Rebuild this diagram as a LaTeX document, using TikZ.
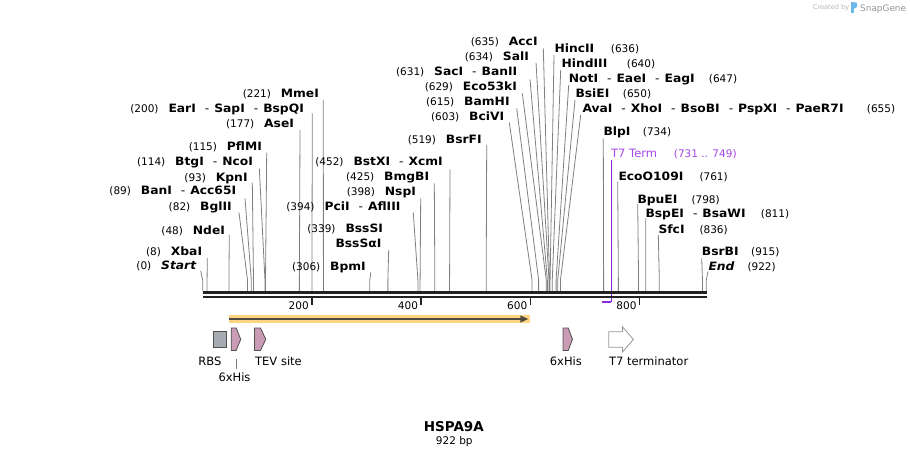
\documentclass[tikz,border=0pt]{standalone}
\usepackage{fontspec}
\setmainfont{DejaVu Sans}
\newfontfamily\nmfont{DejaVu Sans}[FakeStretch=1.07]
\usetikzlibrary{arrows.meta}
\definecolor{sitegray}{RGB}{128,128,128}
\definecolor{barblack}{RGB}{34,34,34}
\definecolor{tpurple}{RGB}{165,70,235}
\definecolor{lpurple}{RGB}{140,40,225}
\definecolor{orfband}{RGB}{255,212,130}
\definecolor{orfdark}{RGB}{78,74,60}
\definecolor{pinkfeat}{RGB}{201,155,181}
\definecolor{rbsgray}{RGB}{166,172,180}
\definecolor{featedge}{RGB}{80,80,80}
\definecolor{termedge}{RGB}{150,150,150}
\definecolor{sgblue}{RGB}{110,185,235}
\definecolor{sggray}{RGB}{150,150,150}
\newcommand\bpx[1]{202.7+0.5462*#1}
\newcommand\sepd{\hspace{9pt}{\mdseries -}\hspace{5pt}}
\newcommand\leftsite[8]{%
  \node[nm] (n#1) at (#4,{#5+4}) {#3};
  \node[num, anchor=base east] (m#1) at ([xshift=-9.5pt]n#1.base west) {(#2)};
  \coordinate (s#1) at (#6,#7);
  \coordinate (k#1) at ({\bpx{#8}},280);
  \coordinate (b#1) at ({\bpx{#8}},291);
  \draw[siteline] (s#1) -- (k#1) -- (b#1);
}
\newcommand\rightsite[9]{%
  \node[nm] (n#1) at (#4,{#5+4}) {#3};
  \node[num, anchor=base west] (m#1) at (#6,{#5+4}) {(#2)};
  \coordinate (s#1) at (#7,#8);
  \coordinate (k#1) at ({\bpx{#9}},280);
  \coordinate (b#1) at ({\bpx{#9}},291);
  \draw[siteline] (s#1) -- (k#1) -- (b#1);
}
\begin{document}
\begin{tikzpicture}[x=1pt,y=-1pt,
  nm/.style={font=\fontsize{11.5}{13}\selectfont\nmfont\bfseries, inner sep=0pt, anchor=base west},
  num/.style={font=\fontsize{10.5}{12}\selectfont, inner sep=0pt},
  flab/.style={font=\fontsize{11.5}{13}\selectfont, inner sep=0pt, anchor=base west},
  siteline/.style={draw=sitegray, line width=0.8pt},
  pinkarrow/.style={fill=pinkfeat, draw=featedge, line width=0.8pt, line join=miter}]
\fill[white] (0,0) rectangle (910,457);
\useasboundingbox (0,0) rectangle (910,457);

% left-side sites
\leftsite{Start}{0}{\itshape Start}{161}{265.7}{200.7}{271}{0}
\leftsite{XbaI}{8}{XbaI}{170.7}{251.7}{207.3}{258}{8}
\leftsite{NdeI}{48}{NdeI}{192.7}{230}{229.3}{235}{48}
\leftsite{BglII}{82}{BglII}{200}{206.7}{239}{212.7}{82}
\leftsite{BanI}{89}{BanI\sepd Acc65I}{140.7}{191}{245}{198.3}{89}
\leftsite{KpnI}{93}{KpnI}{215.7}{177.3}{252.3}{182.7}{93}
\leftsite{BtgI}{114}{BtgI\sepd NcoI}{175}{162}{259.3}{168.3}{114}
\leftsite{PflMI}{115}{PflMI}{226.7}{146.7}{266.7}{152.7}{115}
\leftsite{AseI}{177}{AseI}{264}{124}{300}{130}{177}
\leftsite{EarI}{200}{EarI\sepd SapI\sepd BspQI}{168.3}{108.7}{312.3}{113.3}{200}
\leftsite{MmeI}{221}{MmeI}{280.7}{94}{323.3}{100}{221}
\leftsite{BpmI}{306}{BpmI}{330}{266.7}{370.7}{272.3}{306}
\leftsite{BssSI}{339}{BssSI}{345.3}{229}{388.7}{250}{339}
\node[nm] (nBssSaI) at (335.3,247.3) {BssSαI};
\leftsite{PciI}{394}{PciI\sepd AflIII}{324.3}{206.7}{413.3}{212.7}{394}
\leftsite{NspI}{398}{NspI}{384.7}{191.7}{420.7}{198.3}{398}
\leftsite{BmgBI}{425}{BmgBI}{384}{176.7}{434.3}{183.3}{425}
\leftsite{BstXI}{452}{BstXI\sepd XcmI}{353.3}{161.7}{450}{169.3}{452}
\leftsite{BsrFI}{519}{BsrFI}{445.7}{139.3}{486.7}{145}{519}
\leftsite{BciVI}{603}{BciVI}{469}{116.7}{509.3}{122.7}{603}
\leftsite{BamHI}{615}{BamHI}{464}{101.7}{516.7}{108.3}{615}
\leftsite{EcoFT}{629}{Eco53kI}{462.7}{86.7}{522.3}{93.3}{629}
\leftsite{SacI}{631}{SacI\sepd BanII}{434}{72}{530}{79.3}{631}
\leftsite{SalI}{634}{SalI}{502.7}{56.7}{536}{62.7}{634}
\leftsite{AccI}{635}{AccI}{508.7}{41.7}{543.3}{48.3}{635}

% right-side sites
\rightsite{HincII}{636}{HincII}{554.3}{49}{610.7}{554}{55}{636}
\rightsite{HindIII}{640}{HindIII}{561.3}{64}{626.7}{560.7}{70}{640}
\rightsite{NotI}{647}{NotI\sepd EaeI\sepd EagI}{568.7}{79}{708.7}{568.7}{85}{647}
\rightsite{BsiEI}{650}{BsiEI}{575.3}{93.3}{622.7}{575}{100}{650}
\rightsite{AvaI}{655}{AvaI\sepd XhoI\sepd BsoBI\sepd PspXI\sepd PaeR7I}{582.3}{109}{866.7}{580.7}{115}{655}
\rightsite{BlpI}{734}{BlpI}{603.3}{132}{642.7}{603.3}{138.3}{734}
\rightsite{EcoO}{761}{EcoO109I}{618.3}{177}{699.3}{617.7}{181.7}{761}
\rightsite{BpuEI}{798}{BpuEI}{637.3}{199.3}{691.3}{637.7}{204}{798}
\rightsite{BspEI}{811}{BspEI\sepd BsaWI}{645.3}{213.7}{760.7}{645.7}{218.3}{811}
\rightsite{SfcI}{836}{SfcI}{658.3}{229.3}{699.3}{658.3}{235}{836}
\rightsite{BsrBI}{915}{BsrBI}{701.7}{251.7}{751}{701.7}{258.3}{915}
\rightsite{End}{922}{\itshape End}{708.3}{266.7}{747.3}{708}{271.5}{922}

% T7 Term feature label
\node[flab, text=tpurple] (t7t) at (611,{154+4}) {T7 Term};
\node[num, anchor=base west, text=tpurple] (t7n) at (673.7,{154+4}) {(731 .. 749)};
\coordinate (t7top) at (611.3,160);
\coordinate (t7bot) at (611.3,301.5);
\coordinate (t7a) at ({\bpx{731}},301.5);
\draw[lpurple, line width=1pt] (t7top) -- (t7bot);

% sequence bar
\coordinate (barA) at (203,292.3);
\coordinate (barB) at (707,292.3);
\coordinate (barC) at (203,296.6);
\coordinate (barD) at (707,296.6);
\draw[barblack, line width=3.2pt] (barA) -- (barB);
\draw[barblack, line width=2.2pt] (barC) -- (barD);
\draw[lpurple, line width=2pt] (t7a) -- (t7bot);

% ticks
\foreach \t in {200,400,600,800}{
  \coordinate (ta\t) at ({\bpx{\t}},297);
  \coordinate (tb\t) at ({\bpx{\t}},304.5);
  \draw[barblack, line width=1.6pt] (ta\t) -- (tb\t);
  \node[num, anchor=base east] (tl\t) at ({\bpx{\t}-3},309) {\t};
}

% ORF arrow
\coordinate (orf0) at (229,319);
\coordinate (orf1) at (528.4,319);
\draw[orfband, line width=7.5pt] (orf0) -- ([xshift=1.5pt]orf1);
\draw[orfdark, line width=2.4pt, -{Triangle[length=8pt,width=6.5pt]}] (orf0) -- (orf1);

% features
\draw[fill=rbsgray, draw=featedge, line width=0.8pt] (213.3,331.3) rectangle (226.7,347.3);
\draw[pinkarrow] (231.2,328) -- (236.2,328) -- (240.7,339.3) -- (236.2,350.5) -- (231.2,350.5) -- cycle;
\draw[pinkarrow] (254.5,328) -- (260.5,328) -- (265.8,339.3) -- (260.5,350.5) -- (254.5,350.5) -- cycle;
\draw[pinkarrow] (563,328) -- (568.2,328) -- (572.5,339.3) -- (568.2,350.5) -- (563,350.5) -- cycle;
\draw[fill=white, draw=termedge, line width=0.8pt, line join=miter] (608.7,331.8) -- (622.5,331.8) -- (622.5,326.8) -- (633.3,339.4) -- (622.5,352) -- (622.5,347.2) -- (608.7,347.2) -- cycle;

% feature labels
\node[flab] (rbs) at (198.2,365.5) {RBS};
\node[flab] (tev) at (255,365.5) {TEV site};
\node[flab] (his2) at (549.7,365.5) {6xHis};
\node[flab] (t7term) at (608.9,365.5) {T7 terminator};
\node[flab, anchor=base] (his1) at (234.5,381.5) {6xHis};
\coordinate (his1a) at (236.4,358.7);
\coordinate (his1b) at (236.4,368.8);
\draw[sitegray, line width=0.8pt] (his1a) -- (his1b);

% title
\node[font=\fontsize{13.5}{15}\selectfont\bfseries, inner sep=0pt, anchor=base] (title) at (453.8,431.2) {HSPA9A};
\node[font=\fontsize{10.5}{12}\selectfont, inner sep=0pt, anchor=base] (len) at (454.3,444) {922 bp};

% credit
\node[font=\fontsize{6.6}{8}\selectfont, text=sggray!70, inner sep=0pt, anchor=base west] (cby) at (812.7,10) {Created by};
\fill[sgblue] (851.3,2.5) rectangle (853.6,13);
\fill[sgblue] (853.6,2.5) -- (856.5,2.5) -- (857.3,5) -- (856.2,8) -- (853.6,8.5) -- cycle;
\node[font=\fontsize{8.9}{10}\selectfont, text=sggray, inner sep=0pt, anchor=base west] (sg) at (860,11.3) {SnapGene};
\end{tikzpicture}
\end{document}
